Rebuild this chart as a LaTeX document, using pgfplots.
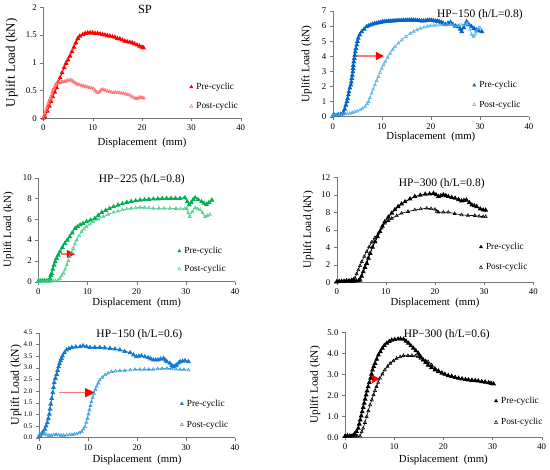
\documentclass[border=0pt]{standalone}
\usepackage{fontspec}
\setmainfont{Liberation Serif}
\usepackage{pgfplots}
\pgfplotsset{compat=1.18}
\usetikzlibrary{arrows.meta}
\definecolor{axgray}{RGB}{120,120,120}
\definecolor{spPre}{RGB}{255,0,0}
\definecolor{spPost}{RGB}{255,110,110}
\definecolor{bPre}{RGB}{0,100,200}
\definecolor{bPost}{RGB}{90,180,235}
\definecolor{gPre}{RGB}{0,176,80}
\definecolor{gPost}{RGB}{70,205,140}
\definecolor{cPre}{RGB}{20,120,210}
\definecolor{cPost}{RGB}{50,155,225}
\definecolor{arrowline}{RGB}{255,120,120}
\tikzset{ttl/.style={font=\fontsize{11.5}{12}\selectfont}}
\pgfplotsset{
  sub/.style={
    scale only axis, axis lines=left, axis line style={-, draw=axgray},
    tick style={draw=axgray}, tick align=outside, major tick length=3pt,
    xmin=0, xmax=40, xtick={0,10,20,30,40}, ymin=0, clip=false,
    tick label style={font=\fontsize{8.8}{9}\selectfont},
    /pgf/number format/assume math mode=true,
    xlabel={Displacement\ \ (mm)}, ylabel={Uplift Load (kN)},
    anchor=south west,
    legend style={draw=none, fill=none, anchor=west, inner sep=0pt,
      font=\fontsize{9.3}{11}\selectfont, row sep=9.5pt, nodes={inner sep=1pt},
      /tikz/every odd column/.append style={column sep=2.5pt}},
    legend cell align=left,
    legend image code/.code={\draw[#1] plot coordinates {(0pt,0pt)};},
  },
  xl/.style={every axis x label/.style={at={(axis description cs:0.5,0)}, yshift=#1, anchor=center, font=\fontsize{10.8}{12}\selectfont}},
  yl/.style 2 args={every axis y label/.style={at={(axis description cs:0,0.5)}, xshift=#1, rotate=90, anchor=center, font=\fontsize{#2}{13}\selectfont}},
  pre/.style={color=#1, mark=triangle*, mark size=1.9pt, line width=1pt, forget plot},
  post/.style={color=#1, mark=triangle, mark size=1.8pt, line width=0.6pt, mark options={line width=0.55pt}, forget plot},
  lpre/.style={only marks, color=#1, mark=triangle*, mark size=1.8pt},
  lpost/.style={only marks, color=#1, mark=triangle, mark size=1.8pt, mark options={line width=0.5pt}},
}
\begin{document}
\begin{tikzpicture}
\path[use as bounding box] (0,0) rectangle (550pt,470pt);

% ---------------- SP ----------------
\begin{axis}[sub, at={(43.3pt,351.7pt)}, width=197.4pt, height=111pt, ymax=2,
  ytick={0,0.5,1,1.5,2},
  xl=-25pt, yl={-31.6pt}{13},
  legend style={at={(axis description cs:0.741,0.195)}}]
\addplot[pre=spPre] coordinates {(0,0) (0.3,0.03) (0.8,0.13) (1.2,0.22) (1.55,0.3) (1.9,0.39) (2.3,0.47) (2.7,0.55) (3.0,0.65) (3.4,0.73) (3.8,0.82) (4.2,0.91) (4.6,0.99) (5.0,1.05) (5.4,1.12) (5.8,1.2) (6.2,1.28) (6.6,1.36) (7.0,1.44) (7.4,1.48) (8,1.51) (8.5,1.53) (9,1.54) (9.5,1.54) (10,1.54) (10.5,1.53) (11,1.53) (11.5,1.52) (12,1.51) (12.5,1.5) (13,1.49) (13.5,1.48) (14,1.47) (14.5,1.46) (15,1.44) (15.5,1.43) (16,1.41) (16.5,1.39) (17,1.38) (17.5,1.37) (18,1.36) (18.5,1.34) (19,1.32) (19.5,1.3) (20,1.28) (20.3,1.27)};
\addplot[post=spPost] coordinates {(0,0) (0.15,0.04) (0.35,0.09) (0.55,0.14) (0.7,0.18) (0.85,0.22) (1.0,0.27) (1.2,0.31) (1.35,0.35) (1.55,0.39) (1.7,0.42) (1.85,0.47) (2.0,0.51) (2.2,0.55) (2.4,0.59) (2.6,0.62) (2.8,0.63) (3.1,0.64) (3.4,0.64) (3.7,0.65) (4.0,0.66) (4.3,0.66) (4.6,0.67) (4.9,0.68) (5.2,0.68) (5.5,0.69) (5.8,0.68) (6.1,0.66) (6.4,0.64) (6.7,0.62) (7.0,0.61) (7.4,0.60) (7.8,0.59) (8.2,0.58) (8.6,0.57) (9.0,0.56) (9.4,0.55) (9.8,0.54) (10.2,0.53) (10.5,0.50) (10.8,0.47) (11.1,0.46) (11.4,0.48) (11.7,0.51) (12.0,0.52) (12.3,0.51) (12.6,0.50) (13.0,0.49) (13.4,0.48) (13.8,0.47) (14.2,0.46) (14.6,0.47) (15.0,0.46) (15.4,0.46) (15.8,0.45) (16.2,0.45) (16.6,0.44) (17.0,0.43) (17.4,0.42) (17.8,0.40) (18.2,0.38) (18.6,0.36) (18.9,0.35) (19.2,0.36) (19.5,0.38) (19.8,0.37) (20.1,0.37) (20.4,0.36)};
\addlegendimage{lpre=spPre}\addlegendentry{Pre-cyclic}
\addlegendimage{lpost=spPost}\addlegendentry{Post-cyclic}
\node[font=\fontsize{12.5}{13}\selectfont] at (axis description cs:0.515,0.982) {SP};
\end{axis}

% ---------------- HP-150 (0.8) ----------------
\begin{axis}[sub, at={(332.7pt,353.3pt)}, width=196.3pt, height=105.7pt, ymax=7,
  ytick={0,1,...,7},
  xl=-20pt, yl={-26pt}{11.3},
  legend style={at={(axis description cs:0.712,0.205)}}]
\addplot[pre=bPre] coordinates {(0,0.05) (0.4,0.1) (0.8,0.08) (1.2,0.12) (1.6,0.15) (2.0,0.2) (2.2,0.29) (2.45,0.5) (2.7,0.77) (2.9,1.0) (3.05,1.2) (3.2,1.45) (3.3,1.65) (3.5,1.9) (3.7,2.1) (3.8,2.3) (3.9,2.54) (4.0,2.75) (4.1,2.98) (4.15,3.2) (4.2,3.4) (4.3,3.63) (4.4,3.86) (4.5,4.08) (4.6,4.3) (4.75,4.52) (4.9,4.75) (5.05,4.98) (5.2,5.2) (5.5,5.42) (5.9,5.63) (6.4,5.8) (6.9,5.96) (7.3,6.02) (7.7,6.07) (8.1,6.12) (8.5,6.16) (8.9,6.19) (9.3,6.22) (9.7,6.25) (10.1,6.28) (10.5,6.3) (10.9,6.31) (11.3,6.32) (11.7,6.33) (12.1,6.34) (12.5,6.35) (12.9,6.36) (13.3,6.37) (13.7,6.37) (14.1,6.38) (14.5,6.38) (14.9,6.39) (15.3,6.39) (15.7,6.4) (16.1,6.4) (16.5,6.4) (16.9,6.39) (17.3,6.38) (17.7,6.36) (18.1,6.35) (18.5,6.34) (18.9,6.36) (19.3,6.38) (19.7,6.4) (20.1,6.39) (20.5,6.36) (20.9,6.34) (21.3,6.33) (21.7,6.3) (22.1,6.25) (22.5,6.2) (23,6.1) (23.5,6.2) (24,6.25) (24.5,6.12) (25,6.0) (25.6,5.96) (26.0,5.8) (26.3,5.63) (26.7,5.9) (27.0,6.1) (27.3,6.29) (27.8,6.1) (28.3,5.96) (28.8,5.85) (29.3,5.74) (29.8,5.68) (30.4,5.63)};
\addplot[post=bPost] coordinates {(0,0.05) (0.5,0.1) (1.0,0.15) (1.5,0.12) (2.0,0.15) (2.5,0.18) (3.0,0.2) (3.5,0.22) (4.0,0.27) (4.5,0.32) (5.0,0.37) (5.6,0.44) (6.1,0.55) (6.6,0.66) (7.0,0.85) (7.3,1.0) (7.6,1.25) (7.95,1.55) (8.25,1.82) (8.6,2.1) (8.95,2.38) (9.3,2.65) (9.65,2.93) (10,3.2) (10.35,3.42) (10.7,3.64) (11.2,3.92) (11.7,4.19) (12.2,4.42) (12.7,4.64) (13.4,4.86) (14.1,5.08) (14.9,5.3) (15.8,5.52) (16.5,5.64) (17.2,5.75) (17.9,5.85) (18.6,5.92) (19.3,5.98) (19.9,6.03) (20.6,6.05) (21.2,6.06) (21.9,6.07) (22.6,6.08) (23.3,6.09) (24,6.1) (24.6,6.07) (25.3,6.03) (25.8,6.05) (26.3,6.07) (26.9,6.1) (27.3,6.15) (27.6,6.18) (28.0,5.8) (28.3,5.45) (28.7,5.3) (29.0,5.45) (29.3,5.65) (29.7,5.85) (30.0,5.9)};
\addlegendimage{lpre=bPre}\addlegendentry{Pre-cyclic}
\addlegendimage{lpost=bPost}\addlegendentry{Post-cyclic}
\draw[arrowline, line width=1.2pt, -{Triangle[length=8pt,width=8pt,color=red]}] (axis cs:4.5,4.02) -- (axis cs:10.45,4.02);
\node[ttl] at (axis description cs:0.75,0.962) {HP−150 (h/L=0.8)};
\end{axis}

% ---------------- HP-225 (0.8) ----------------
\begin{axis}[sub, at={(38.3pt,188.3pt)}, width=196.7pt, height=104pt, ymax=10,
  ytick={0,2,...,10},
  xl=-21.6pt, yl={-30pt}{11},
  legend style={at={(axis description cs:0.708,0.209)}, row sep=8pt}]
\addplot[pre=gPre] coordinates {(0,0.05) (0.4,0.1) (0.8,0.08) (1.2,0.1) (1.6,0.08) (2.0,0.1) (2.3,0.08) (2.4,0.3) (2.55,0.6) (2.7,0.8) (2.95,1.2) (3.2,1.6) (3.45,1.92) (3.7,2.24) (4.05,2.56) (4.4,2.88) (4.9,3.3) (5.4,3.69) (5.9,4.0) (6.4,4.33) (6.9,4.7) (7.5,5.13) (8.0,5.3) (8.5,5.45) (9.1,5.6) (9.8,5.77) (10.6,5.92) (11.5,6.09) (12.2,6.38) (12.9,6.67) (13.7,6.86) (14.5,7.04) (15.3,7.21) (16.2,7.36) (17.1,7.5) (18,7.63) (18.9,7.71) (19.8,7.78) (20.7,7.85) (21.6,7.88) (22.5,7.92) (23.4,7.95) (24.3,7.97) (25.2,7.99) (26.1,8.01) (27,8.01) (27.9,8.01) (28.8,8.01) (29.8,8.08) (30.3,7.7) (30.7,7.37) (31.1,7.6) (31.5,7.9) (31.9,8.08) (32.5,7.9) (33.2,7.69) (33.7,7.55) (34.2,7.44) (34.7,7.6) (35.3,7.85)};
\addplot[post=gPost] coordinates {(0,0.03) (0.5,0.05) (1.0,0.04) (1.5,0.06) (2.0,0.05) (2.5,0.05) (3.0,0.06) (3.5,0.08) (4.0,0.15) (4.4,0.32) (4.75,0.55) (5.1,0.8) (5.45,1.2) (5.8,1.6) (6.1,2.0) (6.4,2.4) (6.75,2.8) (7.1,3.2) (7.45,3.6) (7.8,4.0) (8.3,4.4) (8.8,4.8) (9.3,5.05) (9.8,5.29) (10.5,5.53) (11.2,5.77) (12.2,6.01) (13.2,6.25) (14.2,6.46) (15.3,6.67) (16.2,6.78) (17.1,6.9) (18,6.99) (18.9,7.05) (19.8,7.1) (20.7,7.15) (21.6,7.12) (22.5,7.08) (23.4,7.05) (24.5,7.05) (25.6,7.05) (26.8,7.05) (28,7.03) (29,7.0) (29.8,7.02) (30.2,7.05) (30.5,6.6) (30.8,6.25) (31.3,6.7) (31.9,7.12) (32.4,7.0) (32.9,6.89) (33.4,6.6) (33.9,6.25) (34.4,6.35) (34.9,6.47)};
\addlegendimage{lpre=gPre}\addlegendentry{Pre-cyclic}
\addlegendimage{lpost=gPost}\addlegendentry{Post-cyclic}
\draw[arrowline, line width=1.2pt, -{Triangle[length=8pt,width=8pt,color=red]}] (axis cs:4.55,2.66) -- (axis cs:7.46,2.66);
\node[ttl] at (axis description cs:0.526,0.978) {HP−225 (h/L=0.8)};
\end{axis}

% ---------------- HP-300 (0.8) ----------------
\begin{axis}[sub, at={(336.7pt,187.7pt)}, width=196.6pt, height=105pt, ymax=12,
  ytick={0,2,...,12},
  xl=-21pt, yl={-28.4pt}{11.3},
  legend style={at={(axis description cs:0.725,0.239)}, row sep=10.5pt}]
\addplot[pre=black] coordinates {(0,0.05) (0.5,0.1) (1,0.12) (1.5,0.1) (2,0.15) (2.5,0.12) (3,0.1) (3.5,0.12) (4,0.15) (4.5,0.2) (4.75,0.27) (5.05,0.7) (5.4,1.2) (5.75,1.7) (6.1,2.17) (6.45,2.75) (6.8,3.3) (7.3,4.0) (7.8,4.65) (8.3,5.2) (8.8,5.8) (9.3,6.4) (9.8,6.93) (10.5,7.45) (11.2,7.9) (11.85,8.3) (12.5,8.65) (13.2,8.95) (13.9,9.2) (14.9,9.52) (15.9,9.8) (17,9.95) (18,10.06) (18.9,10.1) (19.7,10.17) (20.2,10.0) (20.7,9.8) (21.2,9.9) (21.7,10.0) (22.2,9.9) (22.7,9.8) (23.4,9.7) (24.1,9.6) (24.8,9.45) (25.4,9.3) (25.9,9.35) (26.4,9.4) (27,9.1) (27.5,8.84) (28,8.75) (28.5,8.65) (29.2,8.38) (29.8,8.27) (30.3,8.25)};
\addplot[post=black] coordinates {(0,0.05) (0.5,0.08) (1,0.1) (1.5,0.15) (2,0.2) (2.5,0.22) (3,0.28) (3.4,0.35) (3.7,0.46) (4.05,0.95) (4.4,1.41) (4.75,1.9) (5.1,2.36) (5.6,2.95) (6.1,3.5) (6.6,4.05) (7.1,4.57) (7.8,5.1) (8.5,5.6) (9.15,6.17) (9.8,6.74) (10.5,7.05) (11.2,7.31) (12.2,7.6) (13.2,7.89) (14.5,8.08) (15.9,8.27) (17.1,8.37) (18.3,8.46) (19.2,8.4) (20,8.34) (20.4,8.1) (20.7,8.0) (21.7,8.0) (22.7,8.0) (24,7.85) (25.4,7.7) (26.7,7.65) (28.1,7.62) (29,7.55) (29.8,7.5) (30.3,7.5)};
\addlegendimage{lpre=black}\addlegendentry{Pre-cyclic}
\addlegendimage{lpost=black}\addlegendentry{Post-cyclic}
\node[ttl] at (axis description cs:0.534,0.943) {HP−300 (h/L=0.8)};
\end{axis}

% ---------------- HP-150 (0.6) ----------------
\begin{axis}[sub, at={(39pt,32.3pt)}, width=196pt, height=105pt, ymax=4.5,
  ytick={0,0.5,...,4.5},
  yticklabel style={font=\fontsize{7}{8}\selectfont, /pgf/number format/.cd, fixed, fixed zerofill, precision=1},
  xl=-22pt, yl={-23pt}{11.8},
  legend style={at={(axis description cs:0.72,0.224)}, row sep=11pt}]
\addplot[pre=cPre] coordinates {(0,0.05) (0.2,0.07) (0.5,0.16) (0.85,0.25) (1.2,0.36) (1.45,0.5) (1.7,0.64) (1.9,0.82) (2.1,1.01) (2.25,1.22) (2.4,1.44) (2.6,1.68) (2.8,1.93) (2.95,2.15) (3.1,2.36) (3.35,2.54) (3.6,2.71) (3.8,2.88) (4.0,3.04) (4.2,3.17) (4.4,3.3) (4.6,3.4) (4.8,3.5) (5.2,3.64) (5.6,3.76) (6.1,3.82) (6.7,3.87) (7.5,3.89) (8.4,3.9) (9.0,3.94) (9.7,3.9) (10.4,3.87) (11.4,3.87) (12.4,3.87) (13.4,3.85) (14.5,3.83) (15.5,3.8) (16.5,3.76) (17.5,3.7) (18.6,3.64) (19.3,3.55) (19.9,3.47) (20.4,3.49) (20.9,3.51) (21.6,3.47) (22.3,3.43) (22.8,3.38) (23.3,3.33) (23.8,3.33) (24.3,3.33) (24.8,3.37) (25.4,3.4) (25.8,3.32) (26.1,3.26) (26.7,3.19) (27.1,3.1) (27.4,3.04) (27.8,3.08) (28.1,3.11) (28.5,3.2) (28.8,3.26) (29.3,3.28) (29.8,3.3) (30.5,3.26)};
\addplot[post=cPost] coordinates {(0,0.07) (0.3,0.12) (0.6,0.15) (1.0,0.18) (1.5,0.12) (2,0.1) (2.5,0.1) (3,0.12) (3.5,0.14) (4,0.12) (4.5,0.1) (5,0.1) (5.6,0.11) (6.2,0.12) (6.7,0.13) (7.2,0.15) (7.7,0.16) (8.2,0.2) (8.7,0.26) (9.05,0.36) (9.4,0.47) (9.65,0.65) (9.9,0.83) (10.1,1.01) (10.3,1.19) (10.5,1.37) (10.7,1.54) (10.95,1.72) (11.2,1.9) (11.5,2.06) (11.8,2.21) (12.1,2.34) (12.4,2.47) (12.9,2.58) (13.5,2.69) (14.1,2.76) (14.8,2.83) (15.6,2.85) (16.5,2.87) (17.5,2.88) (18.6,2.9) (19.6,2.92) (20.6,2.93) (21.5,2.93) (22.4,2.92) (23.3,2.93) (24.2,2.95) (25.1,2.96) (26.1,2.97) (27,2.96) (27.9,2.94) (28.8,2.93) (29.6,2.92) (30.5,2.9)};
\addlegendimage{lpre=cPre}\addlegendentry{Pre-cyclic}
\addlegendimage{lpost=cPost}\addlegendentry{Post-cyclic}
\draw[arrowline, line width=1.2pt, -{Triangle[length=10pt,width=9pt,color=red]}] (axis cs:4.14,1.93) -- (axis cs:11.43,1.93);
\node[ttl] at (axis description cs:0.512,0.978) {HP−150 (h/L=0.6)};
\end{axis}

% ---------------- HP-300 (0.6) ----------------
\begin{axis}[sub, at={(345pt,32.7pt)}, width=196.7pt, height=105pt, ymax=5,
  ytick={0,1,...,5},
  yticklabel style={/pgf/number format/.cd, fixed, fixed zerofill, precision=1},
  xl=-23pt, yl={-30pt}{11.3},
  legend style={at={(axis description cs:0.759,0.244)}, row sep=11.5pt}]
\addplot[pre=black] coordinates {(0,0.05) (0.5,0.08) (1.0,0.06) (1.4,0.06) (1.7,0.1) (2.0,0.16) (2.35,0.28) (2.7,0.43) (2.9,0.63) (3.1,0.83) (3.3,1.02) (3.5,1.22) (3.7,1.42) (3.9,1.62) (4.1,1.82) (4.3,2.02) (4.5,2.21) (4.7,2.41) (4.95,2.61) (5.2,2.81) (5.4,3.01) (5.6,3.21) (5.85,3.37) (6.1,3.52) (6.45,3.72) (6.8,3.92) (7.2,4.08) (7.6,4.24) (8.0,4.37) (8.5,4.48) (9.0,4.56) (9.5,4.63) (10.1,4.66) (10.8,4.68) (11.3,4.68) (11.9,4.67) (12.4,4.58) (12.9,4.48) (13.4,4.36) (13.9,4.24) (14.4,4.12) (14.9,4.0) (15.4,3.84) (15.9,3.68) (16.4,3.56) (16.9,3.44) (17.6,3.32) (18.3,3.21) (19.0,3.13) (19.7,3.05) (20.3,3.0) (21,2.94) (21.7,2.9) (22.4,2.85) (23.1,2.81) (23.8,2.78) (24.5,2.75) (25.1,2.73) (25.8,2.71) (26.5,2.7) (27.1,2.68) (27.8,2.65) (28.5,2.63) (29.2,2.6) (29.7,2.57) (30.2,2.54)};
\addplot[post=black] coordinates {(0,0.03) (0.5,0.04) (1,0.05) (1.5,0.05) (2,0.05) (2.5,0.05) (3.05,0.06) (3.4,0.25) (3.7,0.43) (4.05,0.7) (4.4,0.98) (4.75,1.26) (5.1,1.54) (5.45,1.78) (5.8,2.02) (6.1,2.22) (6.4,2.41) (6.75,2.61) (7.1,2.81) (7.6,3.01) (8.1,3.21) (8.65,3.37) (9.2,3.52) (9.85,3.64) (10.5,3.76) (11.2,3.83) (11.9,3.89) (12.8,3.89) (13.6,3.89) (14.3,3.87) (14.9,3.84) (15.4,3.76) (15.9,3.68) (16.4,3.64) (16.9,3.6) (17.6,3.45) (18.3,3.29) (19.0,3.18) (19.7,3.08) (20.3,3.0) (21,2.94) (21.7,2.9) (22.4,2.86) (23.1,2.82) (23.8,2.79) (24.5,2.76) (25.1,2.74) (25.8,2.72) (26.5,2.7) (27.1,2.68) (27.8,2.66) (28.5,2.63) (29.2,2.6) (29.7,2.58) (30.2,2.55)};
\addlegendimage{lpre=black}\addlegendentry{Pre-cyclic}
\addlegendimage{lpost=black}\addlegendentry{Post-cyclic}
\draw[red, line width=1pt, -{Triangle[length=8pt,width=8pt,color=red]}] (axis cs:5.08,2.78) -- (axis cs:7.11,2.78);
\node[ttl] at (axis description cs:0.517,0.974) {HP−300 (h/L=0.6)};
\end{axis}
\end{tikzpicture}
\end{document}
